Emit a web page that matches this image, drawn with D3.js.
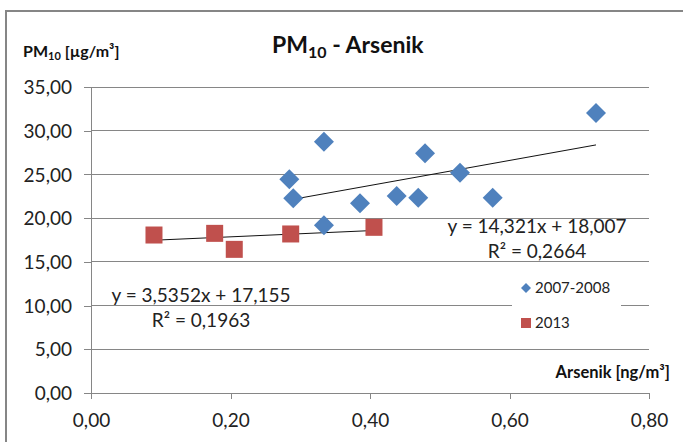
<!DOCTYPE html>
<html><head><meta charset="utf-8">
<script src="https://cdn.jsdelivr.net/npm/d3@7"></script>
<style>
html,body{margin:0;padding:0;background:#fff;}
svg{display:block;font-family:Lato,"Open Sans",sans-serif;}
</style></head>
<body><svg id="c" width="683" height="442"></svg>
<script>
// Data
const series0Name = "2007-2008";
const series0X = [0.724, 0.334, 0.2843, 0.290, 0.334, 0.3857, 0.4383, 0.4692, 0.4789, 0.529, 0.5759];
const series0Y = [32.03, 28.74, 24.44, 22.27, 19.2, 21.7, 22.53, 22.34, 27.42, 25.2, 22.34];
const series1Name = "2013";
const series1X = [0.0903, 0.1773, 0.2054, 0.2863, 0.4057];
const series1Y = [18.07, 18.26, 16.43, 18.19, 18.95];
const trend0 = [14.321, 18.007]; // slope, intercept
const trend1 = [3.5352, 17.155];
const r2 = [0.2664, 0.1963];
const xTicks = [0, 0.2, 0.4, 0.6, 0.8];
const yTicks = [0, 5, 10, 15, 20, 25, 30, 35];

const svg = d3.select("#c");
const fmt = v => v.toFixed(2).replace(".", ",");
const fmtN = (v, d) => v.toFixed(d).replace(".", ",");
const grey = "#868686";
const blue = "#4F81BD", red = "#C0504D";

const x = d3.scaleLinear().domain([0, 0.8]).range([91, 649]);
const y = d3.scaleLinear().domain([0, 35]).range([393, 87]);

// frame
svg.append("rect").attr("x", 6).attr("y", 11).attr("width", 700).attr("height", 460)
  .attr("fill", "none").attr("stroke", grey).attr("stroke-width", 2);

// gridlines
svg.append("g").selectAll("line").data(yTicks.filter(d => d > 0)).join("line")
  .attr("x1", 91).attr("x2", 649).attr("y1", d => y(d)).attr("y2", d => y(d))
  .attr("stroke", grey).attr("stroke-width", 1).attr("shape-rendering", "crispEdges");

// axes
const yAx = svg.append("g").attr("transform", "translate(91,0)")
  .call(d3.axisLeft(y).tickValues(yTicks).tickFormat(fmt).tickSize(7).tickPadding(12));
const xAx = svg.append("g").attr("transform", "translate(0,393)")
  .call(d3.axisBottom(x).tickValues(xTicks).tickFormat(fmt).tickSize(6).tickPadding(15));
[yAx, xAx].forEach(a => {
  a.selectAll("path,line").attr("stroke", grey).attr("shape-rendering", "crispEdges");
  a.select(".domain").attr("d", a === yAx ? "M0,87V393" : "M91,0H649");
  a.selectAll("text").attr("font-family", "Lato").attr("font-size", 19).attr("fill", "#222");
});
yAx.selectAll("text").attr("dy", "0.35em");

// trend lines
function trend(xs, c) {
  const ext = d3.extent(xs);
  svg.append("line").attr("x1", x(ext[0])).attr("x2", x(ext[1]))
    .attr("y1", y(c[0] * ext[0] + c[1])).attr("y2", y(c[0] * ext[1] + c[1]))
    .attr("stroke", "#111").attr("stroke-width", 1);
}
trend(series0X, trend0);
trend(series1X, trend1);

// markers
const diamond = (s) => `M0,${-s}L${s},0L0,${s}L${-s},0Z`;
svg.append("g").selectAll("path").data(series0X.map((v, i) => [v, series0Y[i]])).join("path")
  .attr("transform", d => `translate(${x(d[0])},${y(d[1])})`)
  .attr("d", diamond(10)).attr("fill", blue);
svg.append("g").selectAll("rect").data(series1X.map((v, i) => [v, series1Y[i]])).join("rect")
  .attr("x", d => x(d[0]) - 8.5).attr("y", d => y(d[1]) - 8.5)
  .attr("width", 17).attr("height", 17).attr("fill", red);

// equations
function eq(cx, by, c, r, dec) {
  svg.append("text").attr("x", cx).attr("y", by).attr("text-anchor", "middle")
    .attr("font-size", 19).attr("fill", "#222")
    .text(`y = ${fmtN(c[0], dec[0])}x + ${fmtN(c[1], 3)}`);
  svg.append("text").attr("x", cx).attr("y", by + 25).attr("text-anchor", "middle")
    .attr("font-size", 19).attr("fill", "#222")
    .text(`R² = ${fmtN(r, 4)}`);
}
eq(537, 233, trend0, r2[0], [3]);
eq(201, 302, trend1, r2[1], [4]);

// legend
svg.append("rect").attr("x", 512).attr("y", 270).attr("width", 109).attr("height", 70).attr("fill", "#fff");
svg.append("path").attr("transform", "translate(526,288)").attr("d", diamond(5)).attr("fill", blue);
svg.append("rect").attr("x", 521).attr("y", 318).attr("width", 10).attr("height", 10).attr("fill", red);
svg.append("text").attr("x", 535).attr("y", 293).attr("font-size", 15).attr("fill", "#222").text(series0Name);
svg.append("text").attr("x", 535).attr("y", 328).attr("font-size", 15).attr("fill", "#222").text(series1Name);

// titles
const t = svg.append("text").attr("x", 272).attr("y", 53).attr("font-size", 23).attr("font-weight", "bold").attr("fill", "#111");
t.append("tspan").text("PM");
t.append("tspan").attr("font-size", 16).attr("dy", 5).text("10");
t.append("tspan").attr("dy", -5).text(" - Arsenik");

const yt = svg.append("text").attr("x", 23).attr("y", 57).attr("font-size", 16).attr("font-weight", "bold").attr("fill", "#111");
yt.append("tspan").text("PM");
yt.append("tspan").attr("font-size", 11).attr("dy", 3).text("10");
yt.append("tspan").attr("dy", -3).text(" [µg/m³]");

svg.append("text").attr("x", 670).attr("y", 378).attr("text-anchor", "end").attr("font-size", 16.5)
  .attr("font-weight", "bold").attr("fill", "#111").text("Arsenik [ng/m³]");
</script></body></html>
